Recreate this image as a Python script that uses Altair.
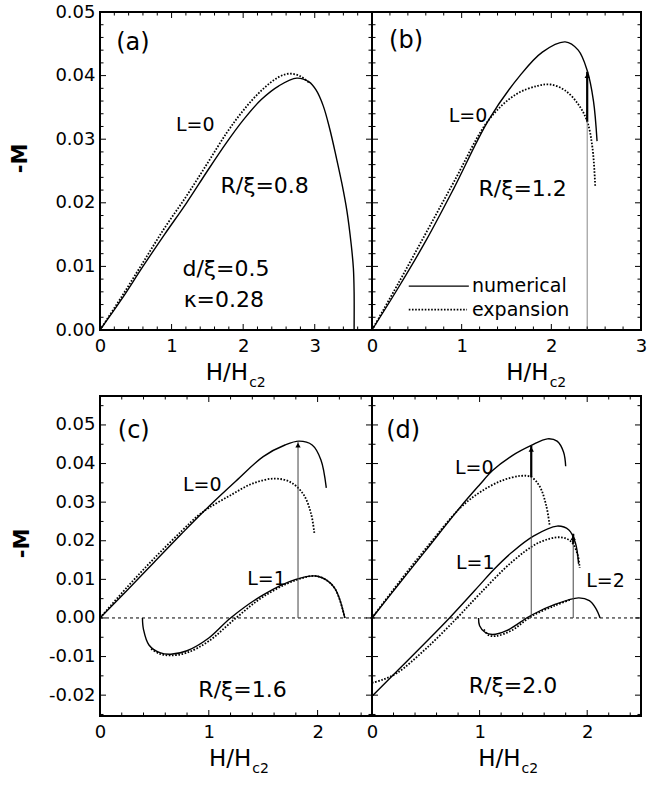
import altair as alt
import pandas as pd

FONT = "DejaVu Sans"

# ---------------- data ----------------
# panel (a)  R/xi = 0.8
a_num_H = [0, 0.3, 0.6, 0.9, 1.21, 1.5, 1.77, 2.0, 2.25, 2.5, 2.75, 2.92, 3.02, 3.12, 3.21, 3.3, 3.38, 3.45, 3.51, 3.54, 3.55, 3.55]
a_num_M = [0, 0.0048, 0.0100, 0.0150, 0.0200, 0.0250, 0.0295, 0.0330, 0.0362, 0.0384, 0.0396, 0.0390, 0.0377, 0.0352, 0.0316, 0.0272, 0.0230, 0.0187, 0.0134, 0.0097, 0.0060, 0.0]
a_exp_H = [0, 0.3, 0.6, 0.9, 1.21, 1.5, 1.77, 2.0, 2.25, 2.5, 2.65, 2.8, 2.92]
a_exp_M = [0, 0.0052, 0.0106, 0.0160, 0.0211, 0.0262, 0.0310, 0.0345, 0.0376, 0.0398, 0.0403, 0.0399, 0.0389]

# panel (b)  R/xi = 1.2
b_num_H = [0, 0.3, 0.6, 0.91, 1.3, 1.65, 1.9, 2.155, 2.3, 2.4, 2.47, 2.51]
b_num_M = [0, 0.0068, 0.0140, 0.0222, 0.0330, 0.0400, 0.0437, 0.0453, 0.0440, 0.0408, 0.0360, 0.0297]
b_exp_H = [0, 0.3, 0.6, 0.91, 1.3, 1.6, 1.85, 1.99, 2.15, 2.3, 2.40, 2.46, 2.49]
b_exp_M = [0, 0.0075, 0.0152, 0.0232, 0.0330, 0.0370, 0.0384, 0.0386, 0.0377, 0.0355, 0.0328, 0.0285, 0.0224]
b_arrow_H = [2.40]
b_arrow_mid = [0.0328]
b_arrow_top = [0.0406]

# panel (c)  R/xi = 1.6
c0_num_H = [0, 0.25, 0.5, 0.75, 1.0, 1.25, 1.5, 1.7, 1.83, 1.95, 2.03, 2.08]
c0_num_M = [0, 0.0072, 0.0145, 0.0218, 0.0289, 0.0355, 0.0418, 0.0448, 0.0458, 0.0448, 0.0410, 0.0337]
c0_exp_H = [0, 0.25, 0.5, 0.75, 0.9, 1.0, 1.2, 1.4, 1.6, 1.75, 1.87, 1.94, 1.97]
c0_exp_M = [0, 0.0080, 0.0155, 0.0225, 0.0265, 0.0285, 0.0318, 0.0348, 0.0361, 0.0352, 0.0320, 0.0270, 0.0220]
c1_num_H = [0.39, 0.40, 0.45, 0.55, 0.65, 0.8, 1.0, 1.2, 1.5, 1.8, 2.0, 2.15, 2.25]
c1_num_M = [0, -0.0030, -0.0070, -0.0090, -0.0094, -0.0085, -0.0052, 0.0, 0.0060, 0.0100, 0.0108, 0.0080, 0.0]
c1_exp_H = [0.47, 0.55, 0.65, 0.8, 1.0, 1.25, 1.5, 1.8, 2.0, 2.15, 2.25]
c1_exp_M = [-0.0080, -0.0093, -0.0097, -0.0090, -0.0060, 0.0, 0.0055, 0.0098, 0.0108, 0.0080, 0.0]
c_arrow_H = [1.82]
c_arrow_mid = [0.0458]
c_arrow_top = [0.0458]

# panel (d)  R/xi = 2.0
d0_num_H = [0, 0.25, 0.5, 0.82, 1.0, 1.12, 1.3, 1.48, 1.63, 1.72, 1.78, 1.80]
d0_num_M = [0, 0.0088, 0.0175, 0.0287, 0.0345, 0.0382, 0.0420, 0.0447, 0.0464, 0.0458, 0.0430, 0.0393]
d0_exp_H = [0, 0.25, 0.5, 0.82, 1.0, 1.2, 1.38, 1.48, 1.56, 1.62, 1.65]
d0_exp_M = [0, 0.0092, 0.0180, 0.0285, 0.0325, 0.0355, 0.0368, 0.0365, 0.0340, 0.0290, 0.0242]
d1_num_H = [0, 0.25, 0.5, 0.72, 1.0, 1.13, 1.3, 1.5, 1.72, 1.83, 1.89, 1.92]
d1_num_M = [-0.0203, -0.0133, -0.0063, 0.0, 0.0085, 0.0125, 0.0170, 0.0212, 0.0238, 0.0228, 0.0195, 0.0140]
d1_exp_H = [0, 0.1, 0.235, 0.5, 0.79, 1.0, 1.3, 1.55, 1.75, 1.85, 1.91, 1.93]
d1_exp_M = [-0.0168, -0.0160, -0.0142, -0.0080, 0.0, 0.0062, 0.0145, 0.0195, 0.0209, 0.0198, 0.0165, 0.0130]
d2_num_H = [0.99, 1.0, 1.05, 1.12, 1.25, 1.48, 1.7, 1.92, 2.02, 2.08, 2.12]
d2_num_M = [0, -0.0020, -0.0037, -0.0043, -0.0033, 0.0007, 0.0035, 0.0052, 0.0045, 0.0025, 0.0]
d2_exp_H = [1.04, 1.08, 1.15, 1.3, 1.48, 1.7, 1.85]
d2_exp_M = [-0.0030, -0.0044, -0.0047, -0.0032, 0.0004, 0.0032, 0.0048]
d_arrow_H = [1.48, 1.87]
d_arrow_mid = [0.0365, 0.0192]
d_arrow_top = [0.0447, 0.0218]

# tick values
x_major_a = [0, 1, 2, 3]
x_major_b = [0, 1, 2, 3]
x_major_cd = [0, 1, 2]
y_major_top = [0.0, 0.01, 0.02, 0.03, 0.04, 0.05]
y_major_bot = [-0.02, -0.01, 0.0, 0.01, 0.02, 0.03, 0.04, 0.05]


def minor(lo, hi, step, majors):
    n = int(round((hi - lo) / step))
    vals = [round(lo + i * step, 6) for i in range(n + 1)]
    return [v for v in vals if all(abs(v - m) > 1e-9 for m in majors)]


def curves_df(items):
    rows = []
    for name, kind, hs, ms in items:
        for i, (h, m) in enumerate(zip(hs, ms)):
            rows.append({"H": h, "M": m, "curve": name, "kind": kind, "o": i})
    return pd.DataFrame(rows)


def make_panel(W, Hh, xdom, ydom, xmaj, xmin, ymaj, ymin, curves, texts,
               arrows, show_y, zero_line, title_x, legend=None, thin_color="#888888",
               ytitle_x=-80, ytitle_y=146):
    xs = alt.Scale(domain=xdom, nice=False, zero=False)
    ys = alt.Scale(domain=ydom, nice=False, zero=False)
    xaxis = alt.Axis(values=xmaj, format="d", tickSize=0, domain=False, grid=False,
                     labelFont=FONT, labelFontSize=18, labelPadding=7, labelColor="black",
                     labelFlush=False, labelOverlap=False, title=None)
    if show_y:
        yaxis = alt.Axis(values=ymaj, tickSize=0, domain=False, grid=False,
                         labelExpr="datum.value < 0 ? '-' + format(-datum.value, '.2f') : format(datum.value, '.2f')",
                         labelFont=FONT, labelFontSize=18, labelPadding=5, labelColor="black",
                         labelOverlap=False, title="-M", titleFont=FONT, titleFontSize=21,
                         titleFontWeight="bold", titleColor="black", titleAngle=270,
                         titleAlign="center", titleBaseline="middle",
                         titleX=ytitle_x, titleY=ytitle_y)
    else:
        yaxis = None

    def X(f="H"):
        return alt.X(f"{f}:Q", scale=xs, axis=xaxis)

    def Y(f="M"):
        return alt.Y(f"{f}:Q", scale=ys, axis=yaxis)

    layers = []
    num = curves[curves.kind == "num"]
    exp = curves[curves.kind == "exp"]
    layers.append(alt.Chart(num).mark_line(color="black", strokeWidth=1.4, interpolate="catmull-rom")
                  .encode(x=X(), y=Y(), detail="curve:N", order="o:Q"))
    layers.append(alt.Chart(exp).mark_line(color="black", strokeWidth=1.8, strokeDash=[1.6, 1.6],
                                           interpolate="catmull-rom")
                  .encode(x=X(), y=Y(), detail="curve:N", order="o:Q"))
    if zero_line:
        zdf = pd.DataFrame({"M": [0.0]})
        layers.append(alt.Chart(zdf).mark_rule(color="black", strokeWidth=1, strokeDash=[3, 3])
                      .encode(y=Y(), x=alt.value(0), x2=alt.value(W)))
    if arrows is not None:
        adf = pd.DataFrame({"H": arrows[0], "M": [0.0] * len(arrows[0]),
                            "mid": arrows[1], "top": arrows[2]})
        layers.append(alt.Chart(adf).mark_rule(color=thin_color, strokeWidth=1)
                      .encode(x=X(), y=Y(), y2="top:Q"))
        layers.append(alt.Chart(adf).mark_rule(color="black", strokeWidth=2.2)
                      .encode(x=X(), y=alt.Y("mid:Q", scale=ys, axis=yaxis), y2="top:Q"))
        layers.append(alt.Chart(adf).mark_point(shape="triangle-up", filled=True, color="black",
                                                size=28, yOffset=4, opacity=1)
                      .encode(x=X(), y=alt.Y("top:Q", scale=ys, axis=yaxis)))
    # texts inside the panel
    tdf = pd.DataFrame(texts, columns=["H", "M", "text", "fs"])
    layers.append(alt.Chart(tdf).mark_text(font=FONT, color="black")
                  .encode(x=X(), y=Y(), text="text:N", size=alt.Size("fs:Q", scale=None)))
    if legend is not None:
        ldf = pd.DataFrame(legend["lines"], columns=["H", "H2", "M", "kind"])
        layers.append(alt.Chart(ldf[ldf.kind == "num"]).mark_rule(color="black", strokeWidth=1.4)
                      .encode(x=X(), x2="H2:Q", y=Y()))
        layers.append(alt.Chart(ldf[ldf.kind == "exp"]).mark_rule(color="black", strokeWidth=1.8,
                                                                  strokeDash=[1.6, 1.6])
                      .encode(x=X(), x2="H2:Q", y=Y()))
        ltd = pd.DataFrame(legend["texts"], columns=["H", "M", "text"])
        layers.append(alt.Chart(ltd).mark_text(font=FONT, color="black", align="left", fontSize=19)
                      .encode(x=X(), y=Y(), text="text:N"))
    # inward ticks
    for vals, L in [(xmaj, 6), (xmin, 3.5)]:
        d = pd.DataFrame({"H": vals})
        layers.append(alt.Chart(d).mark_rule(color="black", strokeWidth=1)
                      .encode(x=X(), y=alt.value(Hh), y2=alt.value(Hh - L)))
        layers.append(alt.Chart(d).mark_rule(color="black", strokeWidth=1)
                      .encode(x=X(), y=alt.value(0), y2=alt.value(L)))
    for vals, L in [(ymaj, 6), (ymin, 3.5)]:
        d = pd.DataFrame({"M": vals})
        layers.append(alt.Chart(d).mark_rule(color="black", strokeWidth=1)
                      .encode(y=Y(), x=alt.value(0), x2=alt.value(L)))
        layers.append(alt.Chart(d).mark_rule(color="black", strokeWidth=1)
                      .encode(y=Y(), x=alt.value(W), x2=alt.value(W - L)))
    # x title  H/H_c2
    ttl = pd.DataFrame({"H": [title_x], "text": ["H/H"]})
    layers.append(alt.Chart(ttl).mark_text(font=FONT, fontSize=23, color="black", align="right",
                                           baseline="alphabetic")
                  .encode(x=X(), y=alt.value(Hh + 50), text="text:N"))
    sub = pd.DataFrame({"H": [title_x], "text": ["c2"]})
    layers.append(alt.Chart(sub).mark_text(font=FONT, fontSize=14, color="black", align="left",
                                           baseline="alphabetic", dx=1)
                  .encode(x=X(), y=alt.value(Hh + 57), text="text:N"))
    return alt.layer(*layers).properties(width=W, height=Hh)


W_A, W_B, H_TOP, H_BOT = 272, 269, 318, 320

pa = make_panel(
    W_A, H_TOP, [0, 3.8], [0, 0.05], x_major_a, minor(0, 3.8, 0.2, x_major_a),
    y_major_top, minor(0, 0.05, 0.002, y_major_top),
    curves_df([("L0", "num", a_num_H, a_num_M), ("L0", "exp", a_exp_H, a_exp_M)]),
    [(0.46, 0.0452, "(a)", 24), (1.33, 0.0322, "L=0", 19), (2.30, 0.0226, "R/ξ=0.8", 22),
     (1.76, 0.0096, "d/ξ=0.5", 22), (1.73, 0.0047, "κ=0.28", 22)],
    None, True, False, 2.07)

pb = make_panel(
    W_B, H_TOP, [0, 3], [0, 0.05], x_major_b, minor(0, 3.0, 0.2, x_major_b),
    y_major_top, minor(0, 0.05, 0.002, y_major_top),
    curves_df([("L0", "num", b_num_H, b_num_M), ("L0", "exp", b_exp_H, b_exp_M)]),
    [(0.38, 0.0454, "(b)", 24), (1.07, 0.0336, "L=0", 19), (1.68, 0.0222, "R/ξ=1.2", 22)],
    (b_arrow_H, b_arrow_mid, b_arrow_top), False, False, 1.97,
    legend={"lines": [(0.41, 1.08, 0.0069, "num"), (0.41, 1.06, 0.0032, "exp")],
            "texts": [(1.115, 0.0069, "numerical"), (1.115, 0.0032, "expansion")]})

pc = make_panel(
    W_A, H_BOT, [0, 2.5], [-0.0254, 0.0575], x_major_cd, minor(0, 2.4, 0.2, x_major_cd),
    y_major_bot, minor(-0.025, 0.055, 0.005, y_major_bot),
    curves_df([("L0", "num", c0_num_H, c0_num_M), ("L0", "exp", c0_exp_H, c0_exp_M),
               ("L1", "num", c1_num_H, c1_num_M), ("L1", "exp", c1_exp_H, c1_exp_M)]),
    [(0.31, 0.0484, "(c)", 24), (0.94, 0.0345, "L=0", 19), (1.53, 0.0100, "L=1", 19),
     (1.31, -0.0187, "R/ξ=1.6", 22)],
    (c_arrow_H, c_arrow_mid, c_arrow_top), True, True, 1.39, thin_color="#444444",
    ytitle_x=-78, ytitle_y=147)

pd_ = make_panel(
    W_B, H_BOT, [0, 2.5], [-0.0254, 0.0575], x_major_cd, minor(0, 2.4, 0.2, x_major_cd),
    y_major_bot, minor(-0.025, 0.055, 0.005, y_major_bot),
    curves_df([("L0", "num", d0_num_H, d0_num_M), ("L0", "exp", d0_exp_H, d0_exp_M),
               ("L1", "num", d1_num_H, d1_num_M), ("L1", "exp", d1_exp_H, d1_exp_M),
               ("L2", "num", d2_num_H, d2_num_M), ("L2", "exp", d2_exp_H, d2_exp_M)]),
    [(0.29, 0.0484, "(d)", 24), (0.95, 0.0389, "L=0", 19), (0.96, 0.0142, "L=1", 19),
     (2.17, 0.0096, "L=2", 19), (1.31, -0.0176, "R/ξ=2.0", 22)],
    (d_arrow_H, d_arrow_mid, d_arrow_top), False, True, 1.38, thin_color="#444444")

chart = alt.concat(pa, pb, pc, pd_, columns=2,
                   spacing={"row": 66, "column": 0}, bounds="flush",
                   padding={"left": 8, "top": 2, "right": 5, "bottom": 5},
                   background="white").configure_view(stroke="black", strokeWidth=2)

chart.save("out.html", embed_options={"renderer": "svg", "actions": False})
